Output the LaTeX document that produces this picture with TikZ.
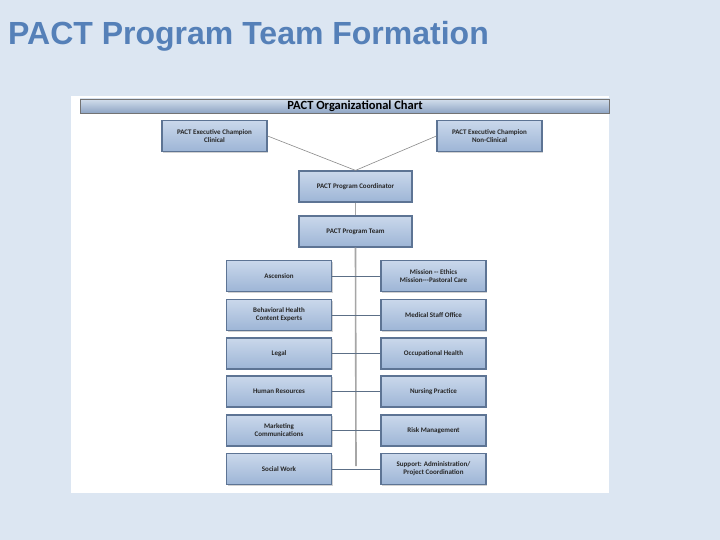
\documentclass[tikz,border=0pt]{standalone}
\usepackage{fontspec}
\setmainfont{Liberation Sans}
\newfontfamily\chartfont{Carlito}
\usetikzlibrary{shadows}
\definecolor{bgblue}{HTML}{DCE6F2}
\definecolor{titleblue}{HTML}{5580B8}
\definecolor{boxtop}{HTML}{CAD8EB}
\definecolor{boxbot}{HTML}{9DB5D6}
\definecolor{boxline}{HTML}{5D7494}
\definecolor{bartop}{HTML}{D3DEEC}
\definecolor{barbot}{HTML}{8EA5C4}
\definecolor{linkgray}{HTML}{8A8A8A}
\definecolor{linkblue}{HTML}{5C6F86}
\tikzset{
  orgbox/.style={draw=boxline, line width=1.2pt, top color=boxtop, bottom color=boxbot,
    minimum width=105pt, minimum height=31pt, align=center, inner sep=1pt,
    font=\chartfont\bfseries\fontsize{7}{8}\selectfont, text=black!85,
    drop shadow={shadow xshift=1pt, shadow yshift=-1.2pt, opacity=0.35}},
  toplink/.style={draw=linkgray, line width=0.6pt},
  spine/.style={draw=black!35, line width=1.6pt},
  rowlink/.style={draw=linkblue, line width=0.8pt},
}
\begin{document}
\begin{tikzpicture}[x=1pt, y=-1pt]
\useasboundingbox (0,0) rectangle (720,540);
\fill[bgblue] (0,0) rectangle (720,540);
\node[anchor=base west, inner sep=0pt, text=titleblue, font=\bfseries\fontsize{32}{36}\selectfont] (title) at (8,45) {PACT Program Team Formation};
\fill[white] (71,96) rectangle (609,493);
\node[draw=black!55, line width=0.8pt, top color=bartop, bottom color=barbot, minimum width=529pt, minimum height=14pt, inner sep=0pt] (bar) at (344.5,106) {};
\node[inner sep=0pt, font=\chartfont\bfseries\fontsize{12.5}{13}\selectfont] (bartext) at (355,106) {PACT Organizational Chart};
% top boxes
\node[orgbox] (clin) at (214.5,136) {PACT Executive Champion\\Clinical};
\node[orgbox] (nonclin) at (489.5,136) {PACT Executive Champion\\Non-Clinical};
\node[orgbox, minimum width=113pt] (coord) at (355.5,186.5) {PACT Program Coordinator};
\node[orgbox, minimum width=113pt] (team) at (355.5,231.5) {PACT Program Team};
% left column
\node[orgbox] (asc) at (279,276) {Ascension};
\node[orgbox] (beh) at (279,315) {Behavioral Health\\Content Experts};
\node[orgbox] (legal) at (279,353.5) {Legal};
\node[orgbox] (hr) at (279,391.5) {Human Resources};
\node[orgbox] (mkt) at (279,430.5) {Marketing\\Communications};
\node[orgbox] (sw) at (279,469) {Social Work};
% right column
\node[orgbox] (mis) at (433.5,276) {Mission -- Ethics\\Mission---Pastoral Care};
\node[orgbox] (med) at (433.5,315) {Medical Staff Office};
\node[orgbox] (occ) at (433.5,353.5) {Occupational Health};
\node[orgbox] (nurs) at (433.5,391.5) {Nursing Practice};
\node[orgbox] (risk) at (433.5,430.5) {Risk Management};
\node[orgbox] (sup) at (433.5,469) {Support: Administration/\\Project Coordination};
\coordinate (spineend) at (356,466);
% connectors
\draw[toplink] (clin.east) -- (coord.north);
\draw[toplink] (nonclin.west) -- (coord.north);
\draw[spine] (coord.south) -- (team.north);
\draw[spine] (team.south) -- (spineend);
\draw[rowlink] (asc.east) -- (mis.west);
\draw[rowlink] (beh.east) -- (med.west);
\draw[rowlink] (legal.east) -- (occ.west);
\draw[rowlink] (hr.east) -- (nurs.west);
\draw[rowlink] (mkt.east) -- (risk.west);
\draw[rowlink] (sw.east) -- (sup.west);
\end{tikzpicture}
\end{document}
